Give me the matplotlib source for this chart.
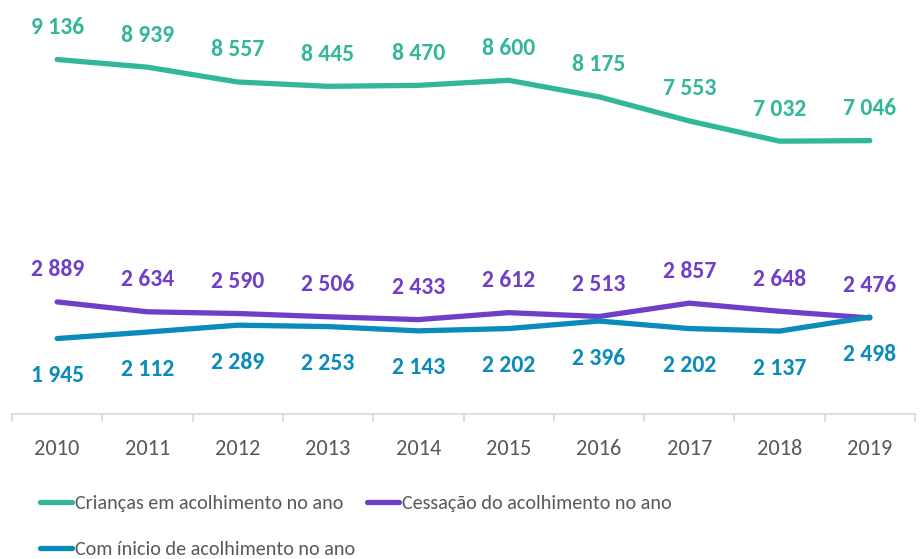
import matplotlib.pyplot as plt
from matplotlib import font_manager
from matplotlib.lines import Line2D

years = ["2010", "2011", "2012", "2013", "2014", "2015", "2016", "2017", "2018", "2019"]
criancas = [9136, 8939, 8557, 8445, 8470, 8600, 8175, 7553, 7032, 7046]
cessacao = [2889, 2634, 2590, 2506, 2433, 2612, 2513, 2857, 2648, 2476]
inicio = [1945, 2112, 2289, 2253, 2143, 2202, 2396, 2202, 2137, 2498]

GREEN = "#33B79A"
PURPLE = "#6F3FC8"
BLUE = "#0A8BB9"
GREY = "#595959"

# Calibri look-alike if the machine has it, Lato otherwise
names = {f.name for f in font_manager.fontManager.ttflist}
if "Carlito" in names:
    base = "Carlito"
    label_size, tick_size, legend_size = 17, 16, 14.5
else:
    base = "Lato"
    label_size, tick_size, legend_size = 15, 15, 12
plt.rcParams["font.family"] = [base, "DejaVu Sans"]


def fmt(v):
    return f"{v:,}".replace(",", " ")


fig = plt.figure(figsize=(9.23, 5.59), dpi=100)
ax = fig.add_axes([12 / 923, 1 - 414 / 559, 903 / 923, 388 / 559])

x = list(range(len(years)))
series = [
    (criancas, GREEN, "Crianças em acolhimento no ano", 32),
    (cessacao, PURPLE, "Cessação do acolhimento no ano", 32),
    (inicio, BLUE, "Com ínicio de acolhimento no ano", -37),
]
for vals, color, label, off in series:
    ax.plot(x, vals, color=color, linewidth=3.8, solid_joinstyle="round",
            solid_capstyle="round", label=label)
    for xi, v in zip(x, vals):
        ax.annotate(fmt(v), (xi, v), xytext=(0, off), textcoords="offset pixels",
                    ha="center", va="center", color=color, fontsize=label_size,
                    fontweight="bold")

ax.set_xlim(-0.5, len(years) - 0.5)
ax.set_ylim(0, 10000)
ax.set_yticks([])
for s in ["top", "right", "left"]:
    ax.spines[s].set_visible(False)
ax.spines["bottom"].set_color("#D9D9D9")
ax.spines["bottom"].set_linewidth(1.2)

# category labels centred, tick marks on the boundaries
ax.set_xticks(x)
ax.set_xticklabels(years, color=GREY, fontsize=tick_size)
ax.tick_params(axis="x", which="major", length=0, pad=18)
ax.set_xticks([i - 0.5 for i in range(len(years) + 1)], minor=True)
ax.tick_params(axis="x", which="minor", length=6, color="#D9D9D9", width=1.2)

handles = [
    Line2D([], [], color=GREEN, linewidth=3.8, solid_capstyle="round"),
    Line2D([], [], color=BLUE, linewidth=3.8, solid_capstyle="round"),
    Line2D([], [], color=PURPLE, linewidth=3.8, solid_capstyle="round"),
]
labels = [
    "Crianças em acolhimento no ano",
    "Com ínicio de acolhimento no ano",
    "Cessação do acolhimento no ano",
]
fig.legend(handles, labels, ncol=2, loc="upper left",
           bbox_to_anchor=(40 / 923, 1 - 495 / 559), frameon=False,
           fontsize=legend_size, labelcolor=GREY,
           handlelength=32 / (legend_size * 1.39), handletextpad=0.15,
           columnspacing=0.6, labelspacing=1.45, borderpad=0, borderaxespad=0)

fig.savefig("out.png", dpi=100)
